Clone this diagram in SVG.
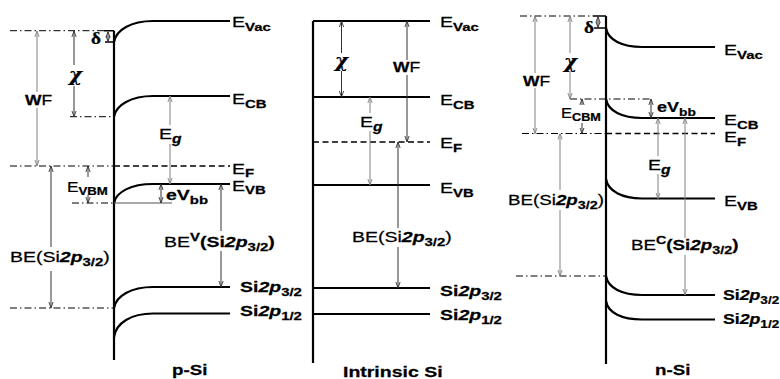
<svg xmlns="http://www.w3.org/2000/svg" width="780" height="379" viewBox="0 0 780 379">
<defs>
<style>
.band{fill:none;stroke:#000;stroke-width:2.2}
.surf{fill:none;stroke:#000;stroke-width:2.2}
.tick{fill:none;stroke:#000;stroke-width:1.6}
.ef{fill:none;stroke:#000;stroke-width:1.5;stroke-dasharray:6 3.5}
.ref{fill:none;stroke:#000;stroke-width:1;stroke-dasharray:7 3 1.5 3}
.thin{fill:none;stroke:#555;stroke-width:1}
.a{fill:none;stroke:#333;stroke-width:1}
.g{stroke:#808080}
.s{marker-start:url(#ah)}
.e{marker-end:url(#ah)}
.g.s{marker-start:url(#ahg)}
.g.e{marker-end:url(#ahg)}
text{font-family:"Liberation Sans",Arial,sans-serif;font-size:15px;fill:#000;stroke:#000;stroke-width:0.25}
.b{font-weight:bold}
.bi{font-weight:bold;font-style:italic}
.sb{font-size:11.5px;font-weight:bold}
.gk{font-family:"DejaVu Serif","Liberation Serif",serif;font-weight:bold}
.dl{font-family:"Liberation Serif","Times New Roman",serif;font-weight:bold;font-size:16px}
</style>
<marker id="ah" viewBox="0 0 8 8" refX="8" refY="4" markerWidth="6" markerHeight="6" markerUnits="userSpaceOnUse" orient="auto-start-reverse">
<path d="M0,1.2 L8,4 L0,6.8" fill="none" stroke="#333" stroke-width="1.2"/>
</marker>
<marker id="ahg" viewBox="0 0 8 8" refX="8" refY="4" markerWidth="6" markerHeight="6" markerUnits="userSpaceOnUse" orient="auto-start-reverse">
<path d="M0,1.2 L8,4 L0,6.8" fill="none" stroke="#808080" stroke-width="1.2"/>
</marker>
</defs>

<!-- p-Si -->
<g id="p-si">
<path class="surf" d="M114,30.7 V360"/>
<path class="tick" d="M104,30.7 H114 M105,42 H114"/>
<path class="band" d="M114,42 C116,30 131,21 153,21 H230"/>
<path class="band" d="M114,116.7 C116,105 131,96 153,96 H230"/>
<path class="band" d="M114,203 C116,192 131,184 153,184 H230"/>
<path class="band" d="M114,308 C116,296 131,287 153,287 H230"/>
<path class="band" d="M114,337 C116,323 131,313.5 153,313.5 H230"/>
<path class="ef" d="M114,166 H230"/>
<path class="ref" d="M10,30.7 H104 M70,116.7 H114 M10,166 H114 M72,203 H114 M10,308 H114"/>
<path class="thin" d="M114,203 H172"/>
<text transform="translate(232 27) scale(1.3 1)">E<tspan class="sb" dy="4">Vac</tspan></text>
<text transform="translate(232 104) scale(1.3 1)">E<tspan class="sb" dy="4">CB</tspan></text>
<text transform="translate(232 174) scale(1.3 1)">E<tspan class="sb" dy="3">F</tspan></text>
<text transform="translate(232 191) scale(1.3 1)">E<tspan class="sb" dy="3">VB</tspan></text>
<text class="b" transform="translate(240 292) scale(1.3 1)">Si<tspan class="bi">2p</tspan><tspan class="sb" dy="4">3/2</tspan></text>
<text class="b" transform="translate(240 316) scale(1.3 1)">Si<tspan class="bi">2p</tspan><tspan class="sb" dy="4">1/2</tspan></text>
<text class="dl" transform="translate(91 44) scale(1.2 1)">δ</text>
<text class="gk" style="font-size:18px;font-style:italic" transform="translate(69 81) scale(1.1 1)">χ</text>
<text style="font-size:14px" transform="translate(25 105) scale(1.25 1)"><tspan class="b">W</tspan>F</text>
<text transform="translate(159 139) scale(1.3 1)">E<tspan class="bi" style="font-size:12px" dy="4">g</tspan></text>
<text transform="translate(67 192) scale(1.15 1)">E<tspan class="sb" dy="3">VBM</tspan></text>
<text transform="translate(166 200) scale(1.3 1)"><tspan class="b">eV</tspan><tspan class="sb" dy="4">bb</tspan></text>
<text transform="translate(10 262) scale(1.3 1)">BE(Si<tspan class="bi">2p</tspan><tspan class="sb" dy="4">3/2</tspan><tspan dy="-4">)</tspan></text>
<text transform="translate(164 247) scale(1.3 1)">BE<tspan class="sb" dy="-6">V</tspan><tspan class="b" dy="6">(Si</tspan><tspan class="bi">2p</tspan><tspan class="sb" dy="4">3/2</tspan><tspan class="b" dy="-4">)</tspan></text>
<text class="b" transform="translate(172 375) scale(1.25 1)">p-Si</text>
</g>

<!-- Intrinsic Si -->
<g id="intrinsic-si">
<path class="surf" d="M313,21 V363"/>
<path class="band" d="M313,21 H430 M313,97 H430 M313,185 H430 M313,288 H430 M313,314 H430"/>
<path class="ef" d="M313,142 H430"/>
<text transform="translate(440 27) scale(1.3 1)">E<tspan class="sb" dy="4">Vac</tspan></text>
<text transform="translate(440 105) scale(1.3 1)">E<tspan class="sb" dy="4">CB</tspan></text>
<text transform="translate(440 148) scale(1.3 1)">E<tspan class="sb" dy="4">F</tspan></text>
<text transform="translate(440 193) scale(1.3 1)">E<tspan class="sb" dy="4">VB</tspan></text>
<text class="b" transform="translate(440 296) scale(1.3 1)">Si<tspan class="bi">2p</tspan><tspan class="sb" dy="4">3/2</tspan></text>
<text class="b" transform="translate(440 320) scale(1.3 1)">Si<tspan class="bi">2p</tspan><tspan class="sb" dy="4">1/2</tspan></text>
<text class="gk" style="font-size:18px;font-style:italic" transform="translate(335 67) scale(1.1 1)">χ</text>
<text style="font-size:14px" transform="translate(393 72) scale(1.25 1)"><tspan class="b">W</tspan>F</text>
<text transform="translate(360 127) scale(1.3 1)">E<tspan class="bi" style="font-size:12px" dy="4">g</tspan></text>
<text transform="translate(352 242) scale(1.3 1)">BE(Si<tspan class="bi">2p</tspan><tspan class="sb" dy="4">3/2</tspan><tspan dy="-4">)</tspan></text>
<text class="b" transform="translate(343 377) scale(1.3 1)">Intrinsic Si</text>
</g>

<!-- n-Si -->
<g id="n-si">
<path class="surf" d="M606,16 V364"/>
<path class="tick" d="M593,16 H606 M594,28 H606"/>
<path class="band" d="M606,28 C608,40 622,47 642,47 H715"/>
<path class="band" d="M606,99 C608,111 622,118 642,118 H715"/>
<path class="band" d="M606,179 C608,191 622,198.5 642,198.5 H715"/>
<path class="band" d="M606,276 C608,288 622,295 642,295 H715"/>
<path class="band" d="M606,301 C608,313 622,319.5 642,319.5 H715"/>
<path class="ef" d="M606,133.5 H715"/>
<path class="ref" d="M520,16 H593 M570,99 H652 M522,133.5 H606 M516,276 H606"/>
<text transform="translate(724 55) scale(1.3 1)">E<tspan class="sb" dy="4">Vac</tspan></text>
<text transform="translate(724 125) scale(1.3 1)">E<tspan class="sb" dy="4">CB</tspan></text>
<text transform="translate(724 142) scale(1.3 1)">E<tspan class="sb" dy="4">F</tspan></text>
<text transform="translate(724 206) scale(1.3 1)">E<tspan class="sb" dy="4">VB</tspan></text>
<text class="b" transform="translate(723 300) scale(1.18 1)">Si<tspan class="bi">2p</tspan><tspan class="sb" dy="4">3/2</tspan></text>
<text class="b" transform="translate(723 324) scale(1.18 1)">Si<tspan class="bi">2p</tspan><tspan class="sb" dy="4">1/2</tspan></text>
<text class="dl" transform="translate(584 33) scale(1.2 1)">δ</text>
<text class="gk" style="font-size:18px;font-style:italic" transform="translate(564 68) scale(1.1 1)">χ</text>
<text style="font-size:14px" transform="translate(523 86) scale(1.25 1)"><tspan class="b">W</tspan>F</text>
<text transform="translate(561 118) scale(1.1 1)">E<tspan class="sb" dy="3">CBM</tspan></text>
<text transform="translate(657 112) scale(1.2 1)"><tspan class="b">eV</tspan><tspan class="sb" dy="4">bb</tspan></text>
<text transform="translate(648 170) scale(1.3 1)">E<tspan class="bi" style="font-size:12px" dy="4">g</tspan></text>
<text transform="translate(508 205) scale(1.25 1)">BE(Si<tspan class="bi">2p</tspan><tspan class="sb" dy="4">3/2</tspan><tspan dy="-4">)</tspan></text>
<text transform="translate(631 250) scale(1.25 1)">BE<tspan class="sb" dy="-6">C</tspan><tspan class="b" dy="6">(Si</tspan><tspan class="bi">2p</tspan><tspan class="sb" dy="4">3/2</tspan><tspan class="b" dy="-4">)</tspan></text>
<text class="b" transform="translate(655 375) scale(1.25 1)">n-Si</text>
</g>

<!-- connectors (energy arrows) -->
<g id="connectors">
<line class="a g s" x1="37" y1="31" x2="37" y2="92"/>
<line class="a g e" x1="37" y1="108" x2="37" y2="166"/>
<line class="a s" x1="74" y1="31" x2="74" y2="65"/>
<line class="a e" x1="74" y1="86" x2="74" y2="116.7"/>
<line class="a s e" x1="108" y1="31.5" x2="108" y2="41.5"/>
<line class="a s" x1="88" y1="166" x2="88" y2="177"/>
<line class="a e" x1="88" y1="195" x2="88" y2="203"/>
<line class="a g s" x1="170" y1="96" x2="170" y2="125"/>
<line class="a g e" x1="170" y1="144" x2="170" y2="184"/>
<line class="a s e" x1="161" y1="184" x2="161" y2="203"/>
<line class="a s" x1="51" y1="166" x2="51" y2="247"/>
<line class="a e" x1="51" y1="271" x2="51" y2="308"/>
<line class="a s" x1="221" y1="184" x2="221" y2="231"/>
<line class="a e" x1="221" y1="251" x2="221" y2="287"/>
<line class="a s" x1="341.5" y1="21" x2="341.5" y2="53"/>
<line class="a e" x1="341.5" y1="71" x2="341.5" y2="97"/>
<line class="a s" x1="407" y1="21" x2="407" y2="60"/>
<line class="a e" x1="407" y1="75" x2="407" y2="142"/>
<line class="a g s" x1="370" y1="97" x2="370" y2="113"/>
<line class="a g e" x1="370" y1="131" x2="370" y2="185"/>
<line class="a s" x1="398" y1="142" x2="398" y2="228"/>
<line class="a e" x1="398" y1="247" x2="398" y2="288"/>
<line class="a g s" x1="535" y1="16" x2="535" y2="73"/>
<line class="a g e" x1="535" y1="88" x2="535" y2="133.5"/>
<line class="a g s" x1="570" y1="16" x2="570" y2="53"/>
<line class="a g e" x1="570" y1="71" x2="570" y2="99"/>
<line class="a s e" x1="598" y1="16.5" x2="598" y2="27.5"/>
<line class="a s" x1="582" y1="99" x2="582" y2="105"/>
<line class="a e" x1="582" y1="123" x2="582" y2="133.5"/>
<line class="a s e" x1="651" y1="99" x2="651" y2="118"/>
<line class="a g s" x1="658" y1="118" x2="658" y2="156"/>
<line class="a g e" x1="658" y1="174" x2="658" y2="198.5"/>
<line class="a g s" x1="685" y1="118" x2="685" y2="238"/>
<line class="a g e" x1="685" y1="255" x2="685" y2="295"/>
<line class="a g s" x1="560" y1="133.5" x2="560" y2="190"/>
<line class="a g e" x1="560" y1="210" x2="560" y2="276"/>
</g>
</svg>
